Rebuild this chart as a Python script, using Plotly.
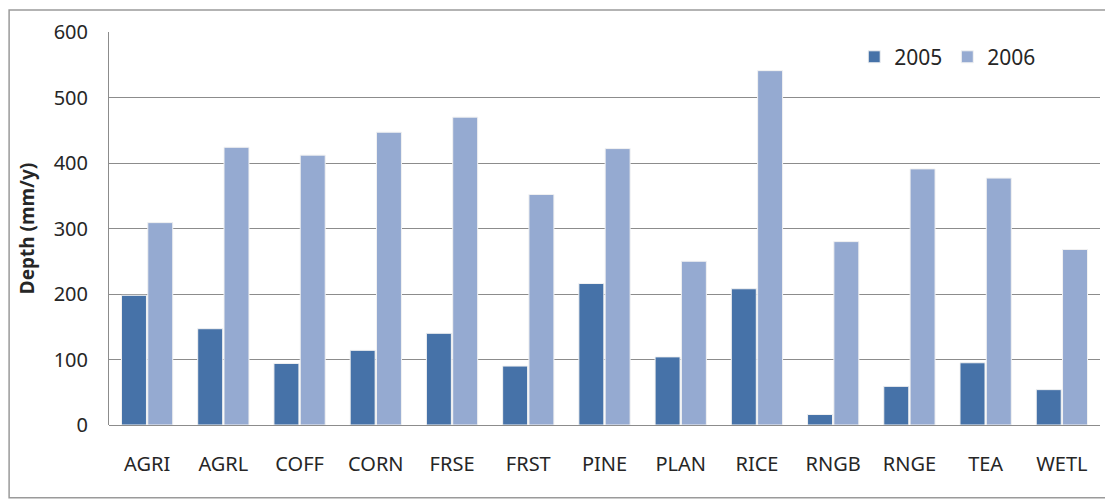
"""Depth by land use class, 2005 vs 2006."""

import plotly.graph_objects as go

categories = ['AGRI', 'AGRL', 'COFF', 'CORN', 'FRSE', 'FRST', 'PINE',
              'PLAN', 'RICE', 'RNGB', 'RNGE', 'TEA', 'WETL']
depth_2005 = [198, 147, 94, 114, 140, 90, 216, 104, 208, 16, 59, 95, 54]
depth_2006 = [309, 424, 412, 447, 470, 352, 422, 250, 541, 280, 391, 377, 268]
y_ticks = [0, 100, 200, 300, 400, 500, 600]

font_family = 'Noto Sans, Open Sans, sans-serif'

fig = go.Figure()

fig.add_trace(go.Bar(
    x=categories,
    y=depth_2005,
    name='2005',
    marker=dict(color='#4672A8', line=dict(color='#f2f2f2', width=1)),
))

fig.add_trace(go.Bar(
    x=categories,
    y=depth_2006,
    name='2006',
    marker=dict(color='#95AAD1', line=dict(color='#f2f2f2', width=1)),
))

# page body has an 8px margin, so the margins are shifted to compensate
fig.update_layout(
    width=1113,
    height=499,
    margin=dict(l=101, r=21, t=24, b=82, autoexpand=False),
    barmode='group',
    bargap=0.31,
    bargroupgap=0.05,
    plot_bgcolor='white',
    paper_bgcolor='white',
    font=dict(family=font_family, size=20, color='#262626'),
    showlegend=True,
    legend=dict(
        orientation='h',
        x=0.752, y=0.936,
        xanchor='left', yanchor='middle',
        font=dict(size=21),
        bgcolor='rgba(0,0,0,0)',
        itemwidth=30,
    ),
    xaxis=dict(
        showline=False,
        ticks='',
        ticklabelstandoff=25,
        tickfont=dict(size=20),
    ),
    yaxis=dict(
        range=[0, 600],
        tickvals=y_ticks,
        showgrid=True,
        gridcolor='#8c8c8c',
        gridwidth=1,
        zeroline=True,
        zerolinecolor='#8c8c8c',
        zerolinewidth=1,
        showline=True,
        linecolor='#8c8c8c',
        linewidth=1,
        ticks='',
        ticklabelstandoff=16,
        tickfont=dict(size=20),
        title=dict(text='<b>Depth (mm/y)</b>', font=dict(size=19), standoff=14),
    ),
)

# outer chart frame
fig.add_shape(
    type='rect', xref='paper', yref='paper',
    x0=-0.1008, x1=1.006, y0=-0.185, y1=1.056,
    line=dict(color='#9a9a9a', width=1.5),
    fillcolor='rgba(0,0,0,0)',
    layer='below',
)

fig.write_html("out.html")
